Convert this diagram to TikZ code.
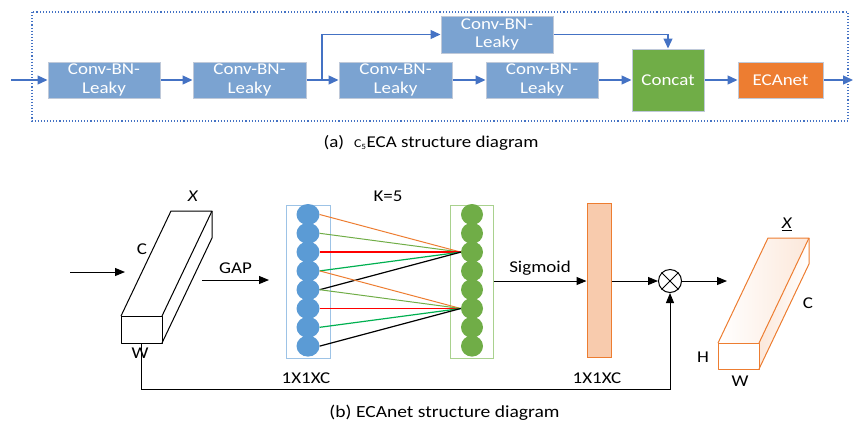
\documentclass[tikz,border=0pt]{standalone}
\usepackage{fontspec}
\setmainfont[FakeStretch=1.15]{Carlito}
\usetikzlibrary{arrows.meta,shapes.geometric,calc}
\definecolor{convblue}{HTML}{7BA3D1}
\definecolor{boxedge}{HTML}{BFC9D9}
\definecolor{arrblue}{HTML}{4472C4}
\definecolor{catgreen}{HTML}{70AD47}
\definecolor{ecaorange}{HTML}{ED7D31}
\definecolor{cblue}{HTML}{5B9BD5}
\definecolor{cblueedge}{HTML}{9DC3E6}
\definecolor{cgreenedge}{HTML}{A9D18E}
\definecolor{peach}{HTML}{F8CBAD}
\definecolor{lolive}{HTML}{70AD47}
\definecolor{lgreen}{HTML}{00B050}
\definecolor{lred}{HTML}{FF0000}
\definecolor{lorange}{HTML}{ED7D31}
\begin{document}
\begin{tikzpicture}[x=1pt,y=-1pt,
  font=\fontsize{16.5}{18.7}\selectfont,
  convbox/.style={draw=boxedge, line width=1pt, fill=convblue, text=white,
    minimum height=36, minimum width=112, inner sep=0, align=center},
  barr/.style={draw=arrblue, line width=1.3pt, -{Triangle[length=10pt,width=9pt]}},
  karr/.style={draw=black, line width=1pt, -{Triangle[length=10pt,width=8pt]}},
  bcirc/.style={ellipse, fill=cblue, minimum width=23, minimum height=21, inner sep=0},
  gcirc/.style={ellipse, fill=catgreen, minimum width=22, minimum height=21, inner sep=0},
  cube/.style={draw=black, line width=1pt, line join=round},
  ocube/.style={draw=ecaorange, line width=1pt, line join=round},
  lbl/.style={inner sep=0}
]
\useasboundingbox (0,0) rectangle (854,424);

% ---------- (a) ----------
\draw[arrblue, line width=1.1pt, dotted] (32,12) rectangle (848,121);
\node[convbox] (b1) at (104,80) {Conv-BN-\\Leaky};
\node[convbox, minimum width=113] (b2) at (249.5,80) {Conv-BN-\\Leaky};
\node[convbox, minimum width=113] (b3) at (395.5,80) {Conv-BN-\\Leaky};
\node[convbox] (b4) at (542,80) {Conv-BN-\\Leaky};
\node[convbox, minimum height=37] (up) at (497,34.5) {Conv-BN-\\Leaky};
\node[convbox, fill=catgreen, minimum width=72, minimum height=62] (cat) at (668,80) {Concat};
\node[convbox, fill=ecaorange, minimum width=85] (eca) at (780.5,80) {ECAnet};
\coordinate (ain) at (11,80);
\coordinate (aout) at (853,80);
\coordinate (br) at (322,80);
\draw[barr] (ain) -- (b1);
\draw[barr] (b1) -- (b2);
\draw[barr] (b2) -- (b3);
\draw[barr] (b3) -- (b4);
\draw[barr] (b4) -- (cat);
\draw[barr] (cat) -- (eca);
\draw[barr] (eca) -- (aout);
\draw[barr] (br) |- (up.west);
\draw[barr] (up.east) -| (cat.north);
\node[lbl, font=\fontsize{16.5}{17}\selectfont] (capa) at (431,143)
  {(a)\hspace{10pt}{\fontsize{12}{12}\selectfont C\textsubscript{5}}ECA structure diagram};

% ---------- (b) ----------
% input cuboid
\draw[cube] (121,316) rectangle (162,343);
\draw[cube] (121,316) -- (171,211) -- (212,211) -- (162,316);
\draw[cube] (212,211) -- (212,238) -- (162,343);
\node[lbl] (lx) at (193,196) {\textit{X}};
\node[lbl] (lc) at (142,249) {C};
\node[lbl] (lw) at (140,353) {W};
\coordinate (bin0) at (70,272);
\coordinate (bin1) at (125,272);
\draw[karr] (bin0) -- (bin1);
\coordinate (gap0) at (202,280);
\coordinate (gap1) at (269,280);
\draw[karr] (gap0) -- node[lbl, above=6pt] (gapl) {GAP} (gap1);

% blue column
\node[draw=cblueedge, line width=1pt, minimum width=44, minimum height=153, inner sep=0] (bcol) at (308,281.5) {};
\foreach \i in {1,...,8} {
  \node[bcirc] (bc\i) at (308,{214.5+18.8*(\i-1)}) {};
}
% green column
\node[draw=cgreenedge, line width=1pt, minimum width=43, minimum height=153, inner sep=0] (gcol) at (471.5,281.5) {};
\foreach \i in {1,...,8} {
  \node[gcirc] (gc\i) at (472,{214.5+18.8*(\i-1)}) {};
}
% connections
\draw[lorange, line width=1pt] (bc1.east) -- (gc3.west);
\draw[lolive, line width=1pt] (bc2.east) -- (gc3.west);
\draw[lred, line width=1.4pt] (bc3.east) -- (gc3.west);
\draw[lgreen, line width=1.2pt] (bc4.east) -- (gc3.west);
\draw[black, line width=1.2pt] (bc5.east) -- (gc3.west);
\draw[lorange, line width=1pt] (bc4.east) -- (gc6.west);
\draw[lolive, line width=1pt] (bc5.east) -- (gc6.west);
\draw[lred, line width=1.4pt] (bc6.east) -- (gc6.west);
\draw[lgreen, line width=1.2pt] (bc7.east) -- (gc6.west);
\draw[black, line width=1.2pt] (bc8.east) -- (gc6.west);
\node[lbl] (k5) at (388,196) {K=5};
\node[lbl] (d1) at (306,378) {1X1XC};

% sigmoid
\node[draw=ecaorange, fill=peach, line width=1pt, minimum width=24, minimum height=154, inner sep=0] (orc) at (599,280) {};
\draw[karr] (gcol.east |- 0,281) -- node[lbl, above=5pt] (sig) {Sigmoid} (orc.west |- 0,281);
\node[lbl] (d2) at (597,378) {1X1XC};

% otimes
\node[circle, draw=black, line width=1pt, minimum size=23, inner sep=0] (ot) at (670,281) {};
\draw[line width=1pt] (ot.north west) -- (ot.south east);
\draw[line width=1pt] (ot.north east) -- (ot.south west);
\draw[karr] (orc.east |- ot.west) -- (ot.west);
\coordinate (oout) at (727,281);
\draw[karr] (ot.east) -- (oout);

% feedback
\coordinate (fb0) at (141,343);
\coordinate (fb1) at (141,389);
\draw[karr] (fb0) -- (fb1) -| (ot.south);

% output cuboid
\shade[left color=white, right color=peach!45] (718,343) -- (768,238) -- (809,238) -- (759,343) -- cycle;
\shade[left color=peach!45, right color=white] (759,343) -- (809,238) -- (809,264) -- (759,369) -- cycle;
\draw[ocube] (718,343) rectangle (759,369);
\draw[ocube] (718,343) -- (768,238) -- (809,238) -- (759,343);
\draw[ocube] (809,238) -- (809,264) -- (759,369);
\node[lbl] (ox) at (787,224) {\underline{\textit{X}}};
\node[lbl] (oc) at (808,303) {C};
\node[lbl] (oh) at (703,357) {H};
\node[lbl] (ow) at (740,381) {W};

\node[lbl, font=\fontsize{17}{17}\selectfont] (capb) at (444.5,413) {(b) ECAnet structure diagram};
\end{tikzpicture}
\end{document}
